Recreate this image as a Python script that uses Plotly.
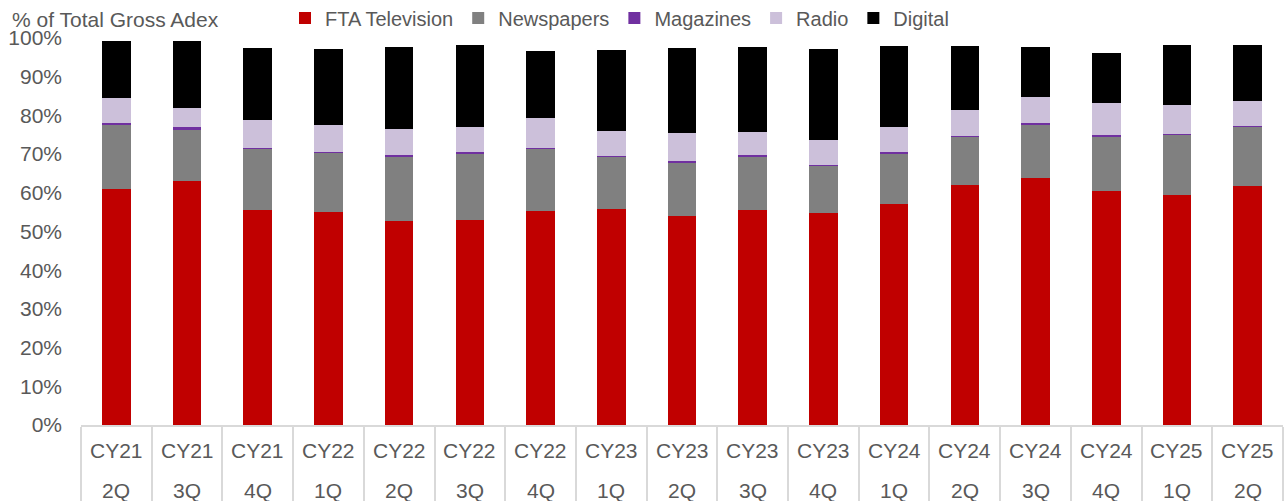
import plotly.graph_objects as go

years = ["CY21", "CY21", "CY21", "CY22", "CY22", "CY22", "CY22", "CY23", "CY23",
         "CY23", "CY23", "CY24", "CY24", "CY24", "CY24", "CY25", "CY25"]
quarters = ["2Q", "3Q", "4Q", "1Q", "2Q", "3Q", "4Q", "1Q", "2Q",
            "3Q", "4Q", "1Q", "2Q", "3Q", "4Q", "1Q", "2Q"]

fta_tv = [61.0, 63.0, 55.5, 55.0, 52.7, 52.9, 55.4, 55.7, 54.1, 55.5, 54.8, 57.2, 61.9, 63.7, 60.4, 59.5, 61.7]
newspapers = [16.4, 13.3, 15.9, 15.3, 16.7, 17.3, 16.0, 13.6, 13.8, 14.0, 12.2, 13.0, 12.6, 13.9, 14.2, 15.5, 15.5]
magazines = [0.6, 0.7, 0.3, 0.3, 0.4, 0.3, 0.3, 0.3, 0.3, 0.3, 0.3, 0.3, 0.2, 0.5, 0.3, 0.3, 0.05]
radio = [6.6, 4.8, 7.1, 7.0, 6.7, 6.4, 7.6, 6.4, 7.2, 5.9, 6.3, 6.6, 6.7, 6.6, 8.3, 7.4, 6.6]
digital = [14.7, 17.5, 18.7, 19.6, 21.3, 21.2, 17.4, 21.0, 21.9, 22.1, 23.5, 20.9, 16.5, 13.1, 13.0, 15.6, 14.3]

y_ticks = list(range(0, 101, 10))
y_tick_labels = [f"{v}%" for v in y_ticks]

cats = [f"{y} {q}" for y, q in zip(years, quarters)]

series = [
    ("FTA Television", fta_tv, "#C00000"),
    ("Newspapers", newspapers, "#808080"),
    ("Magazines", magazines, "#7030A0"),
    ("Radio", radio, "#CCC0DA"),
    ("Digital", digital, "#000000"),
]

FONT = "Liberation Sans, Arial, sans-serif"
TXT = "#595959"

fig = go.Figure()
for name, vals, col in series:
    fig.add_trace(go.Bar(
        x=cats, y=vals, name=name,
        marker=dict(color=col, line=dict(width=0)),
    ))

annotations = [dict(
    text="% of Total Gross Adex", xref="paper", yref="paper",
    x=(10 - 81) / 1202, y=1 + (38 - 20) / 387, xanchor="left", yanchor="middle",
    showarrow=False, font=dict(family=FONT, size=21, color=TXT),
)]
for c, yr, q in zip(cats, years, quarters):
    annotations.append(dict(text=yr, x=c, xref="x", yref="paper",
                            y=-(450 - 425) / 387, yanchor="middle", showarrow=False,
                            font=dict(family=FONT, size=21, color=TXT)))
    annotations.append(dict(text=q, x=c, xref="x", yref="paper",
                            y=-(490 - 425) / 387, yanchor="middle", showarrow=False,
                            font=dict(family=FONT, size=21, color=TXT)))

fig.update_layout(
    width=1287, height=501,
    barmode="stack", bargap=0.595,
    plot_bgcolor="white", paper_bgcolor="white",
    margin=dict(l=81, r=4, t=38, b=76, pad=0, autoexpand=False),
    font=dict(family=FONT, size=21, color=TXT),
    showlegend=True,
    legend=dict(orientation="h", xref="container", yref="container",
                x=285 / 1287, xanchor="left",
                y=1 - 18 / 501, yanchor="middle",
                font=dict(family=FONT, size=20, color=TXT),
                itemwidth=30, traceorder="normal", bgcolor="rgba(0,0,0,0)"),
    annotations=annotations,
    xaxis=dict(
        type="category", showticklabels=False, showgrid=False,
        showline=True, linecolor="#D9D9D9", linewidth=1.5,
        ticks="outside", tickson="boundaries", ticklen=76,
        tickcolor="#D9D9D9", tickwidth=1.5, automargin=False,
        fixedrange=True,
    ),
    yaxis=dict(
        range=[0, 100], tickvals=y_ticks, ticktext=y_tick_labels,
        showgrid=False, zeroline=False, showline=False, ticks="",
        ticklabelstandoff=18, automargin=False,
        tickfont=dict(family=FONT, size=21, color=TXT),
        fixedrange=True,
    ),
)

fig.write_html("out.html")
